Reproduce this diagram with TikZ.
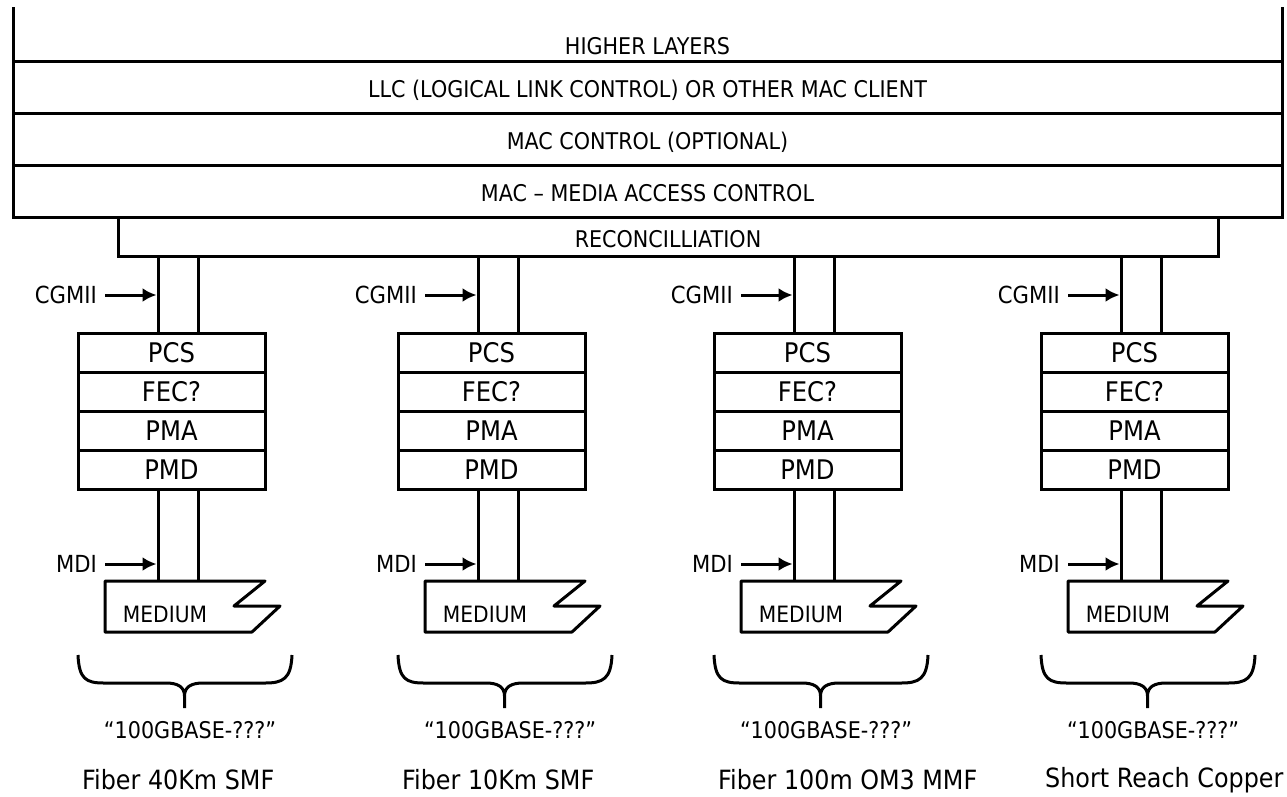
\documentclass[tikz,border=0pt]{standalone}
\usepackage{fontspec}
\setmainfont[FakeStretch=0.9]{DejaVu Sans}
\usetikzlibrary{positioning,arrows.meta}

\begin{document}
\begin{tikzpicture}[x=1pt, y=-1pt,
    wire/.style={line width=3pt},
    band/.style={draw, line width=3pt, minimum width=1269pt, minimum height=52pt,
      inner sep=0pt, outer sep=0pt, text height=21pt, text depth=0pt,
      font=\fontsize{23}{26}\selectfont},
    layer/.style={draw, line width=3pt, minimum width=187pt, minimum height=39pt,
      inner sep=0pt, outer sep=0pt, text height=20pt, text depth=0pt,
      font=\fontsize{27}{30}\selectfont},
    lbl/.style={inner sep=0pt, font=\fontsize{23.5}{26}\selectfont},
    arr/.style={line width=3pt, -{Latex[length=14pt,width=14pt]},
      shorten <=8pt, shorten >=1.5pt}
  ]
  \useasboundingbox (0,0) rectangle (1287,796);
  % MAC and upper layers
  \node[lbl, font=\fontsize{23}{26}\selectfont] (higher) at (647.5,46) {HIGHER LAYERS};
  \node[band] (llc) at (647.5,87) {LLC (LOGICAL LINK CONTROL) OR OTHER MAC CLIENT};
  \node[band, below=0pt of llc] (macctl) {MAC CONTROL (OPTIONAL)};
  \node[band, below=0pt of macctl] (mac) {MAC – MEDIA ACCESS CONTROL};
  \draw[wire] (llc.north west) -- ++(0,-54);
  \draw[wire] (llc.north east) -- ++(0,-54);
  \node[band, minimum width=1100pt, minimum height=39pt] (rec) at (668,236.5) {RECONCILLIATION};
  % one PHY stack per medium
  \foreach \i/\dx/\kind in {1/0/Fiber 40Km SMF, 2/320/Fiber 10Km SMF,
      3/636/Fiber 100m OM3 MMF, 4/963/Short Reach Copper}{
    \begin{scope}[shift={(\dx,0)}]
      \coordinate (l\i) at (158,0);
      \coordinate (r\i) at (198,0);
      \coordinate (mtop\i) at (0,581);
      \node[layer] (pcs\i) at (171.5,352.5) {PCS};
      \node[layer, below=0pt of pcs\i] (fec\i) {FEC?};
      \node[layer, below=0pt of fec\i] (pma\i) {PMA};
      \node[layer, below=0pt of pma\i] (pmd\i) {PMD};
      \node[lbl, font=\fontsize{22.5}{26}\selectfont] (med\i) at (165,614) {MEDIUM};
      \draw[wire, line join=round] (105,581) -- (265,581) -- (234,606) -- (280,606)
        -- (252,632) -- (105,632) -- cycle;
      \draw[wire] (l\i |- rec.south) -- (l\i |- pcs\i.north)
                  (r\i |- rec.south) -- (r\i |- pcs\i.north)
                  (l\i |- pmd\i.south) -- (l\i |- mtop\i)
                  (r\i |- pmd\i.south) -- (r\i |- mtop\i);
      \node[lbl, anchor=east] (cgmii\i) at (97,295) {CGMII};
      \node[lbl, anchor=east] (mdi\i) at (97,564) {MDI};
      \draw[arr] (cgmii\i) -- (l\i |- cgmii\i);
      \draw[arr] (mdi\i) -- (l\i |- mdi\i);
      % curly brace under the medium
      \draw[wire, line join=round] (78,655) .. controls (79,679) and (86,683) .. (104,683)
        -- (166,683) .. controls (178,683) and (184.5,687) .. (184.5,696) -- (184.5,708)
        (184.5,696) .. controls (184.5,687) and (191,683) .. (203,683)
        -- (265,683) .. controls (283,683) and (291,679) .. (292,655);
      \node[lbl, font=\fontsize{23}{26}\selectfont] (base\i) at (190,730) {“100GBASE-???”};
      \node[lbl, anchor=west, font=\fontsize{26.5}{30}\selectfont] (phy\i) at (82,780) {\kind};
    \end{scope}
  }
\end{tikzpicture}
\end{document}
